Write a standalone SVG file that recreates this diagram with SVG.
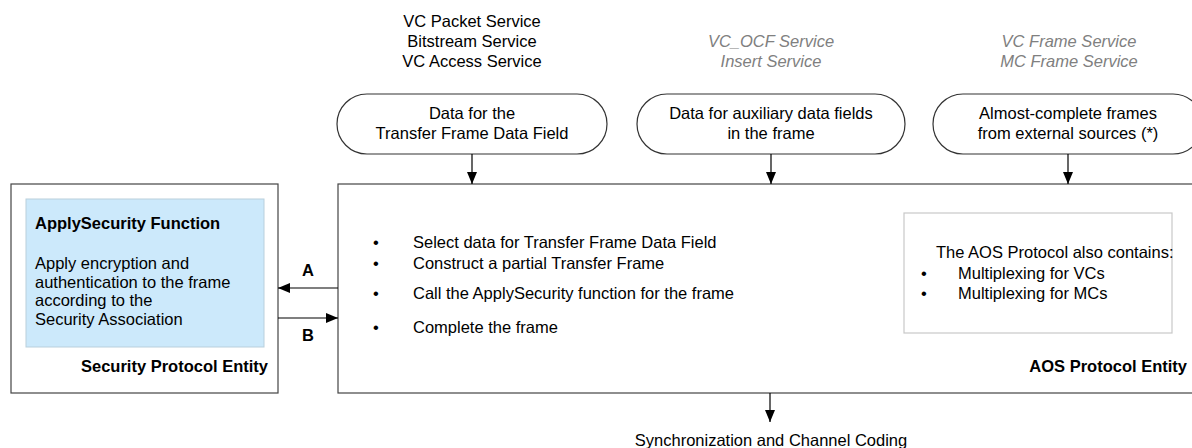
<svg xmlns="http://www.w3.org/2000/svg" width="1192" height="448" viewBox="0 0 1192 448">
<style>
text{font-family:"Liberation Sans",Arial,sans-serif;font-size:16.5px;fill:#000}
.c{text-anchor:middle}
.b{font-weight:bold}
.g{fill:#808080;font-style:italic}
.pill{fill:#fff;stroke:#333;stroke-width:1.2}
.box{fill:#fff;stroke:#444;stroke-width:1.2}
.ln{stroke:#000;stroke-width:1.2;fill:none}
</style>
<defs>
<marker id="ah" viewBox="0 0 12 10" refX="12" refY="5" markerWidth="12" markerHeight="10" markerUnits="userSpaceOnUse" orient="auto">
<path d="M0,0 L12,5 L0,10 z" fill="#000"/>
</marker>
</defs>
<g id="labels-top">
<text class="c" x="472" y="27">VC Packet Service</text>
<text class="c" x="472" y="47">Bitstream Service</text>
<text class="c" x="472" y="67">VC Access Service</text>
<text class="c g" x="771" y="47">VC_OCF Service</text>
<text class="c g" x="771" y="67">Insert Service</text>
<text class="c g" x="1069" y="47">VC Frame Service</text>
<text class="c g" x="1069" y="67">MC Frame Service</text>
</g>
<g id="pill1">
<rect class="pill" x="337" y="94" width="270" height="60" rx="30" ry="30"/>
<text class="c" x="472" y="119">Data for the</text>
<text class="c" x="472" y="139">Transfer Frame Data Field</text>
</g>
<g id="pill2">
<rect class="pill" x="637" y="94" width="268" height="60" rx="30" ry="30"/>
<text class="c" x="771" y="119">Data for auxiliary data fields</text>
<text class="c" x="771" y="139">in the frame</text>
</g>
<g id="pill3">
<rect class="pill" x="933" y="94" width="270" height="60" rx="30" ry="30"/>
<text class="c" x="1068" y="119">Almost-complete frames</text>
<text class="c" x="1068" y="139">from external sources (*)</text>
</g>
<g id="security-entity">
<rect class="box" x="11" y="184" width="267" height="209"/>
<rect x="26" y="199" width="238" height="148" fill="#cce9fb" stroke="#b9cfdc" stroke-width="1"/>
<text class="b" x="35" y="229">ApplySecurity Function</text>
<text x="35" y="269">Apply encryption and</text>
<text x="35" y="288">authentication to the frame</text>
<text x="35" y="306">according to the</text>
<text x="35" y="325">Security Association</text>
<text class="b" x="268" y="372" text-anchor="end">Security Protocol Entity</text>
</g>
<g id="aos-entity">
<rect class="box" x="338" y="184" width="860" height="209"/>
<text x="373" y="248">•</text>
<text x="413" y="248">Select data for Transfer Frame Data Field</text>
<text x="373" y="269">•</text>
<text x="413" y="269">Construct a partial Transfer Frame</text>
<text x="373" y="299">•</text>
<text x="413" y="299">Call the ApplySecurity function for the frame</text>
<text x="373" y="333">•</text>
<text x="413" y="333">Complete the frame</text>
<rect x="904" y="213" width="268" height="120" fill="#fff" stroke="#c8c8c8" stroke-width="1.2"/>
<text x="936" y="258">The AOS Protocol also contains:</text>
<text x="921" y="279">•</text>
<text x="958" y="279">Multiplexing for VCs</text>
<text x="921" y="299">•</text>
<text x="958" y="299">Multiplexing for MCs</text>
<text class="b" x="1187" y="372" text-anchor="end">AOS Protocol Entity</text>
</g>
<g id="output">
<text class="c" x="771" y="446">Synchronization and Channel Coding</text>
</g>
<g id="connectors">
<line class="ln" x1="472" y1="154" x2="472" y2="184" marker-end="url(#ah)"/>
<line class="ln" x1="771" y1="154" x2="771" y2="184" marker-end="url(#ah)"/>
<line class="ln" x1="1068" y1="154" x2="1068" y2="184" marker-end="url(#ah)"/>
<line class="ln" x1="338" y1="288" x2="278" y2="288" marker-end="url(#ah)"/>
<line class="ln" x1="278" y1="318" x2="338" y2="318" marker-end="url(#ah)"/>
<line class="ln" x1="770" y1="393" x2="770" y2="422" marker-end="url(#ah)"/>
<text class="b c" x="308" y="276">A</text>
<text class="b c" x="308" y="341">B</text>
</g>
</svg>
